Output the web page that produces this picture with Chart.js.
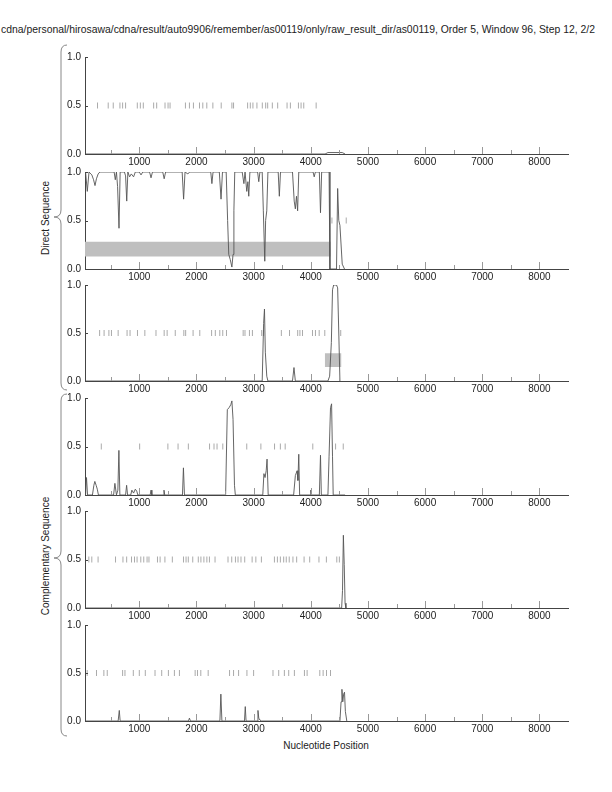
<!DOCTYPE html>
<html>
<head>
<meta charset="utf-8">
<script src="https://cdn.jsdelivr.net/npm/chart.js@4/dist/chart.umd.min.js"></script>
<style>
  body { margin: 0; background: #fff; font-family: "Liberation Sans", Arial, sans-serif; color: #222; }
  #page { position: relative; width: 612px; height: 792px; overflow: hidden; }
  canvas { position: absolute; left: 0; }
  .txt { position: absolute; font-size: 10px; line-height: 12px; white-space: nowrap; }
  .rot { position: absolute; font-size: 10px; line-height: 12px; white-space: nowrap; transform: translate(-50%, -50%) rotate(-90deg); }
</style>
</head>
<body>
<div id="page">
  <div class="txt" style="left:1px; top:24px; font-size:10.4px;">cdna/personal/hirosawa/cdna/result/auto9906/remember/as00119/only/raw_result_dir/as00119, Order 5, Window 96, Step 12, 2/2</div>
  <div class="txt" style="left:326px; top:740px; transform:translateX(-50%);">Nucleotide Position</div>
  <div class="rot" style="left:46px; top:218px;">Direct Sequence</div>
  <div class="rot" style="left:46px; top:556px;">Complementary Sequence</div>
  <svg width="612" height="792" style="position:absolute;left:0;top:0;" fill="none" stroke="#888" stroke-width="1">
    <path d="M67,45 Q61,45 61,52 L61,210 Q61,217 54,217 Q61,217 61,224 L61,383 Q61,390 67,390"/>
    <path d="M67,394 Q61,394 61,401 L61,551 Q61,558 54,558 Q61,558 61,565 L61,729 Q61,736 67,736"/>
  </svg>
</div>
<script>
// x range of every panel and tick positions
const xMin = 50, xMax = 8500;
const xTicks = [500, 1000, 1500, 2000, 2500, 3000, 3500, 4000, 4500, 5000, 5500, 6000, 6500, 7000, 7500, 8000];
const yTicks = [0, 0.5, 1];

// short grey marks on the 0.5 row
const marks1 = [269, 456, 544, 661, 708, 760, 965, 1018, 1070, 1251, 1304, 1450, 1503, 1538, 1807, 1877, 1947, 2053, 2111, 2181, 2287, 2433, 2620, 2649, 2895, 2942, 2988, 3058, 3152, 3211, 3246, 3327, 3421, 3585, 3643, 3784, 3830, 3877, 4094];
const marks2 = [4370, 4620];
const marks3 = [306, 384, 468, 513, 630, 786, 838, 968, 1097, 1292, 1435, 1487, 1629, 1779, 1811, 1941, 2058, 2265, 2330, 2408, 2460, 2525, 2817, 2849, 2927, 2979, 3141, 3174, 3485, 3628, 3771, 3810, 3855, 4030, 4082, 4147, 4245, 4524];
const marks4 = [335, 1006, 1500, 1678, 1858, 2229, 2307, 2360, 2461, 2880, 3127, 3366, 3468, 3552, 4035, 4434, 4568];
const marks5 = [117, 169, 279, 584, 714, 779, 864, 916, 961, 1026, 1078, 1136, 1169, 1318, 1364, 1448, 1578, 1773, 1818, 1857, 1935, 2032, 2078, 2130, 2182, 2227, 2325, 2552, 2617, 2682, 2727, 2779, 2844, 2974, 3039, 3136, 3364, 3416, 3468, 3526, 3571, 3623, 3688, 3753, 3883, 3981, 4143, 4273, 4455, 4500];
const marks6 = [88, 251, 380, 439, 708, 749, 895, 1000, 1105, 1275, 1392, 1509, 1614, 1702, 1977, 2018, 2076, 2205, 2579, 2649, 2737, 2883, 3000, 3339, 3439, 3538, 3614, 3713, 3889, 3936, 4158, 4216, 4275, 4345];

// score curves (position, score)
const line1x = [60, 4250, 4300, 4550, 4600];
const line1y = [0, 0, 0.015, 0.015, 0];

const line2x = [60, 90, 120, 170, 200, 225, 250, 280, 310, 560, 580, 600, 620, 645, 665, 740, 760, 780, 800, 830, 860, 900, 930, 1000, 1030, 1060, 1180, 1205, 1230, 1410, 1435, 1460, 1750, 1775, 1800, 1850, 1880, 2250, 2270, 2290, 2400, 2430, 2455, 2520, 2545, 2565, 2590, 2620, 2640, 2655, 2670, 2800, 2830, 2850, 2880, 2900, 2915, 2935, 3070, 3090, 3110, 3150, 3170, 3195, 3210, 3230, 3250, 3430, 3450, 3470, 3680, 3710, 3730, 3750, 3770, 3790, 4040, 4060, 4080, 4150, 4170, 4190, 4320, 4335, 4450, 4470, 4490, 4510, 4550, 4590];
const line2y = [1, 0.8, 1, 0.97, 0.92, 0.86, 0.93, 0.98, 1, 1, 0.92, 1, 0.85, 0.42, 1, 1, 0.96, 0.7, 1, 0.95, 0.98, 0.95, 1, 1, 0.97, 1, 1, 0.94, 1, 1, 0.93, 1, 1, 0.72, 1, 0.98, 1, 1, 0.88, 1, 1, 0.72, 1, 1, 0.5, 0.15, 0.1, 0.02, 0.15, 0.6, 1, 1, 0.88, 1, 0.8, 0.9, 0.75, 1, 1, 0.9, 1, 1, 0.6, 0.08, 0.5, 0.6, 1, 1, 0.75, 1, 1, 0.7, 0.62, 0.75, 0.6, 1, 1, 0.95, 1, 1, 0.58, 1, 1, 0, 0, 0.83, 0.5, 0.45, 0.05, 0];

const line3x = [60, 3150, 3175, 3190, 3205, 3230, 3250, 3680, 3706, 3730, 4300, 4330, 4360, 4380, 4400, 4450, 4470, 4490, 4510];
const line3y = [0, 0, 0.6, 0.75, 0.3, 0.05, 0, 0, 0.14, 0, 0, 0.05, 0.4, 0.95, 1, 1, 0.97, 0.5, 0];

const line4x = [60, 76, 95, 180, 205, 222, 245, 265, 285, 550, 573, 600, 625, 643, 660, 760, 778, 795, 850, 870, 900, 930, 955, 975, 1190, 1205, 1220, 1420, 1432, 1445, 1755, 1772, 1790, 2510, 2540, 2570, 2600, 2620, 2640, 2665, 2680, 3160, 3180, 3200, 3220, 3235, 3255, 3700, 3730, 3760, 3775, 3790, 3805, 3990, 4000, 4015, 4150, 4170, 4185, 4300, 4320, 4345, 4364, 4380, 4392, 4600];
const line4y = [0, 0.18, 0, 0, 0.1, 0.14, 0.1, 0.06, 0, 0, 0.12, 0, 0.05, 0.46, 0, 0, 0.1, 0, 0, 0.05, 0.02, 0.06, 0.04, 0, 0, 0.05, 0, 0, 0.05, 0, 0, 0.28, 0, 0, 0.88, 0.9, 0.93, 0.97, 0.78, 0.1, 0, 0, 0.22, 0.18, 0.25, 0.37, 0, 0, 0.2, 0.25, 0.15, 0.42, 0, 0, 0.05, 0, 0, 0.41, 0, 0, 0.4, 0.9, 0.94, 0.4, 0, 0];

const line5x = [60, 4540, 4555, 4570, 4585, 4600, 4615];
const line5y = [0, 0, 0.18, 0.75, 0.45, 0.05, 0];

const line6x = [60, 630, 650, 665, 1860, 1877, 1895, 2410, 2427, 2445, 2840, 2854, 2868, 3060, 3076, 3090, 3110, 3140, 4510, 4530, 4545, 4560, 4575, 4590, 4605, 4630];
const line6y = [0, 0, 0.11, 0, 0, 0.03, 0, 0, 0.28, 0, 0, 0.15, 0, 0, 0.11, 0.03, 0.01, 0, 0, 0.2, 0.33, 0.2, 0.28, 0.3, 0.1, 0];

// grey boxes: [xStart, xEnd, yLow, yHigh]
const box2 = [50, 4350, 0.13, 0.28];
const box3 = [4245, 4537, 0.145, 0.29];

const panels = [
  { top: 55,  bottom: 154, lx: line1x, ly: line1y, marks: marks1, box: null },
  { top: 170, bottom: 269, lx: line2x, ly: line2y, marks: marks2, box: box2 },
  { top: 283, bottom: 381, lx: line3x, ly: line3y, marks: marks3, box: box3 },
  { top: 396, bottom: 495, lx: line4x, ly: line4y, marks: marks4, box: null },
  { top: 509, bottom: 608, lx: line5x, ly: line5y, marks: marks5, box: null },
  { top: 623, bottom: 721, lx: line6x, ly: line6y, marks: marks6, box: null }
];

// tick marks drawn inside the plot frame
const innerTicks = {
  id: 'innerTicks',
  afterDraw(chart) {
    const { ctx, chartArea: a, scales: { x, y } } = chart;
    ctx.save();
    ctx.lineWidth = 1;
    ctx.strokeStyle = '#999';
    xTicks.forEach(v => {
      const px = Math.round(x.getPixelForValue(v)) + 0.5;
      const len = v % 1000 === 0 ? 7 : 4;
      ctx.beginPath();
      ctx.moveTo(px, a.bottom);
      ctx.lineTo(px, a.bottom - len);
      ctx.stroke();
    });
    ctx.strokeStyle = '#444';
    yTicks.forEach(v => {
      const py = Math.round(y.getPixelForValue(v)) + 0.5;
      ctx.beginPath();
      ctx.moveTo(a.left, py);
      ctx.lineTo(a.left + 3, py);
      ctx.stroke();
    });
    ctx.restore();
  }
};

const page = document.getElementById('page');
const font = { family: '"Liberation Sans", Arial, sans-serif', size: 10 };

panels.forEach(p => {
  const cv = document.createElement('canvas');
  const padTop = 8, xAxisH = 18;
  cv.width = 580;
  cv.height = (p.bottom - p.top) + padTop + xAxisH;
  cv.style.top = (p.top - padTop) + 'px';
  page.appendChild(cv);

  const datasets = [
    {
      type: 'line',
      data: p.lx.map((v, i) => ({ x: v, y: p.ly[i] })),
      borderColor: '#555',
      borderWidth: 0.9,
      pointRadius: 0,
      tension: 0,
      fill: false
    },
    {
      type: 'scatter',
      data: p.marks.map(v => ({ x: v, y: 0.5 })),
      pointStyle: 'line',
      rotation: 90,
      radius: 3,
      borderColor: '#aaa',
      borderWidth: 1
    }
  ];
  if (p.box) {
    const [x0, x1, y0, y1] = p.box;
    datasets.push({
      type: 'line',
      data: [{ x: x0, y: y1 }, { x: x1, y: y1 }],
      borderWidth: 0,
      pointRadius: 0,
      backgroundColor: '#bfbfbf',
      fill: '+1'
    });
    datasets.push({
      type: 'line',
      data: [{ x: x0, y: y0 }, { x: x1, y: y0 }],
      borderWidth: 0,
      pointRadius: 0,
      fill: false
    });
  }

  new Chart(cv.getContext('2d'), {
    data: { datasets },
    plugins: [innerTicks],
    options: {
      responsive: false,
      animation: false,
      layout: { padding: { top: padTop, right: 12, left: 0, bottom: 0 } },
      plugins: { legend: { display: false }, tooltip: { enabled: false } },
      scales: {
        x: {
          type: 'linear',
          min: xMin,
          max: xMax,
          afterBuildTicks: s => { s.ticks = xTicks.map(v => ({ value: v })); },
          afterFit: s => { s.height = xAxisH; },
          ticks: {
            autoSkip: false,
            maxRotation: 0,
            padding: 2,
            color: '#222',
            font,
            callback: v => (v % 1000 === 0 ? String(v) : '')
          },
          grid: { drawOnChartArea: false, drawTicks: false },
          border: { color: '#444', width: 1 }
        },
        y: {
          min: 0,
          max: 1,
          afterBuildTicks: s => { s.ticks = yTicks.map(v => ({ value: v })); },
          afterFit: s => { s.width = 85; },
          ticks: {
            padding: 4,
            color: '#222',
            font,
            callback: v => v.toFixed(1)
          },
          grid: { drawOnChartArea: false, drawTicks: false },
          border: { color: '#444', width: 1 }
        }
      }
    }
  });
});
</script>
</body>
</html>
